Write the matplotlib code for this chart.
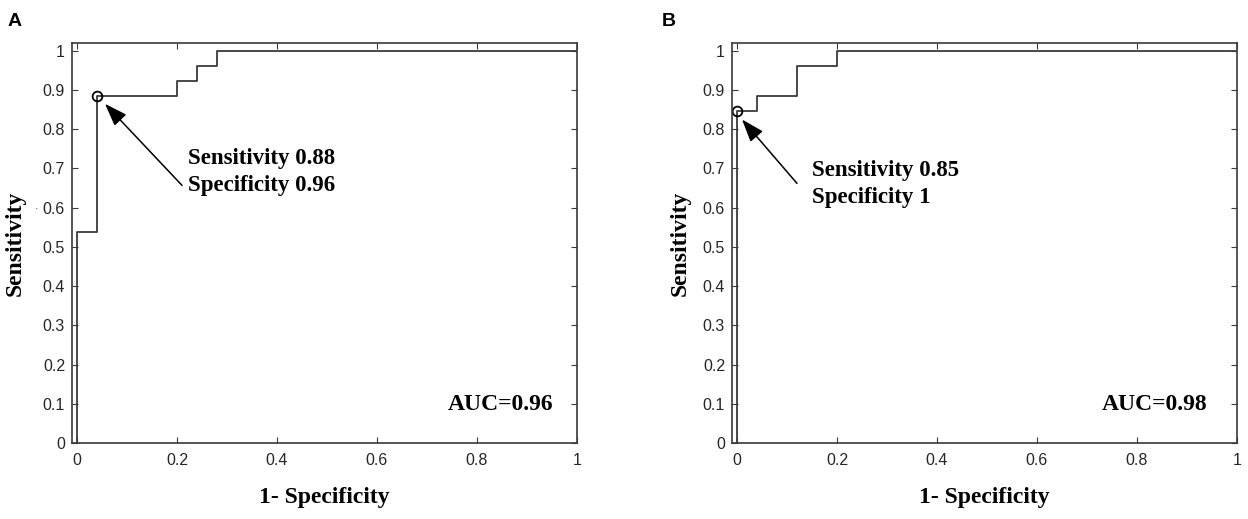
import numpy as np
import matplotlib
matplotlib.use("Agg")
import matplotlib.pyplot as plt

# ROC step curves (1 - specificity, sensitivity)
fpr_a = [0, 0, 0.04, 0.04, 0.20, 0.20, 0.24, 0.24, 0.28, 0.28, 1.0]
tpr_a = [0, 0.538, 0.538, 0.885, 0.885, 0.923, 0.923, 0.962, 0.962, 1.0, 1.0]
fpr_b = [0, 0, 0.04, 0.04, 0.12, 0.12, 0.20, 0.20, 1.0]
tpr_b = [0, 0.846, 0.846, 0.885, 0.885, 0.962, 0.962, 1.0, 1.0]

cut_a = (0.04, 0.885)
cut_b = (0.0, 0.846)
note_a = ["Sensitivity 0.88", "Specificity 0.96"]
note_b = ["Sensitivity 0.85", "Specificity 1"]
auc_a = "AUC=0.96"
auc_b = "AUC=0.98"

xticks = [0, 0.2, 0.4, 0.6, 0.8, 1.0]
xtick_labels = ["0", "0.2", "0.4", "0.6", "0.8", "1"]
yticks = np.round(np.arange(0, 1.01, 0.1), 1)
ytick_labels = ["0"] + [f"{v:.1f}" for v in yticks[1:-1]] + ["1"]

W, H = 1248, 519
fig = plt.figure(figsize=(W / 100, H / 100), dpi=100)
fig.patch.set_facecolor("white")

serif = ["Liberation Serif", "DejaVu Serif"]
sans = ["Liberation Sans", "DejaVu Sans"]
line_col = "#3a3a3a"


def px_axes(left, top, right, bottom):
    return fig.add_axes([left / W, 1 - bottom / H, (right - left) / W, (bottom - top) / H])


# axes, curve, cut point, note, auc, tag, tag x, note xy, arrow tail, arrow tip,
# auc right edge, ylabel x
panels = [
    (px_axes(72, 43, 577, 443), fpr_a, tpr_a, cut_a, note_a, auc_a, "A", 8,
     (0.222, 0.691), (0.21, 0.657), (0.056, 0.865), 0.952, -0.091),
    (px_axes(732, 43, 1237, 443), fpr_b, tpr_b, cut_b, note_b, auc_b, "B", 662,
     (0.15, 0.661), (0.12, 0.662), (0.01, 0.825), 0.94, -0.081),
]

for (ax, fx, ty, cut, note, auc, tag, tag_x, txt_xy, arr_from, arr_to,
     auc_x, ylab_x) in panels:
    ax.plot(fx, ty, color=line_col, lw=1.3)
    ax.plot(*cut, marker="o", ms=7, mfc="none", mec="black", mew=1.3)
    ax.set_xlim(-0.01, 1.0)
    ax.set_ylim(0, 1.02)
    ax.set_xticks(xticks)
    ax.set_xticklabels(xtick_labels)
    ax.set_yticks(yticks)
    ax.set_yticklabels(ytick_labels)
    ax.tick_params(direction="in", top=True, right=True, length=4, width=0.8,
                   color=line_col, labelcolor="#262626", labelsize=11.5)
    ax.tick_params(axis="x", pad=7)
    ax.tick_params(axis="y", pad=5)
    for lab in ax.get_xticklabels() + ax.get_yticklabels():
        lab.set_family(sans)
    for sp in ax.spines.values():
        sp.set_color(line_col)
        sp.set_linewidth(1.2)

    ax.set_xlabel("1- Specificity", family=serif, fontweight="bold", fontsize=17)
    ax.set_ylabel("Sensitivity", family=serif, fontweight="bold", fontsize=17)
    ax.xaxis.set_label_coords(0.5, -0.11)
    ax.yaxis.set_label_coords(ylab_x, 0.5)

    ax.text(txt_xy[0], txt_xy[1], note[0] + "\n" + note[1], family=serif,
            fontweight="bold", fontsize=16.5, va="center", ha="left",
            linespacing=1.35)
    ax.annotate("", xy=arr_to, xytext=arr_from,
                arrowprops=dict(arrowstyle="-|>,head_length=1.4,head_width=0.5",
                                color="black", lw=1.1, shrinkA=0, shrinkB=0))
    ax.text(auc_x, 0.097, auc, family=serif, fontweight="bold", fontsize=17,
            ha="right", va="center")
    fig.text(tag_x / W, 1 - 21 / H, tag, family=sans, fontweight="bold",
             fontsize=14, va="center", ha="left")

# stray dot next to the left label in panel A
fig.text(37 / W, 1 - 206 / H, ".", family=sans, fontsize=9, color="#555555",
         ha="center", va="center")

fig.savefig("out.png", dpi=100, facecolor="white")
